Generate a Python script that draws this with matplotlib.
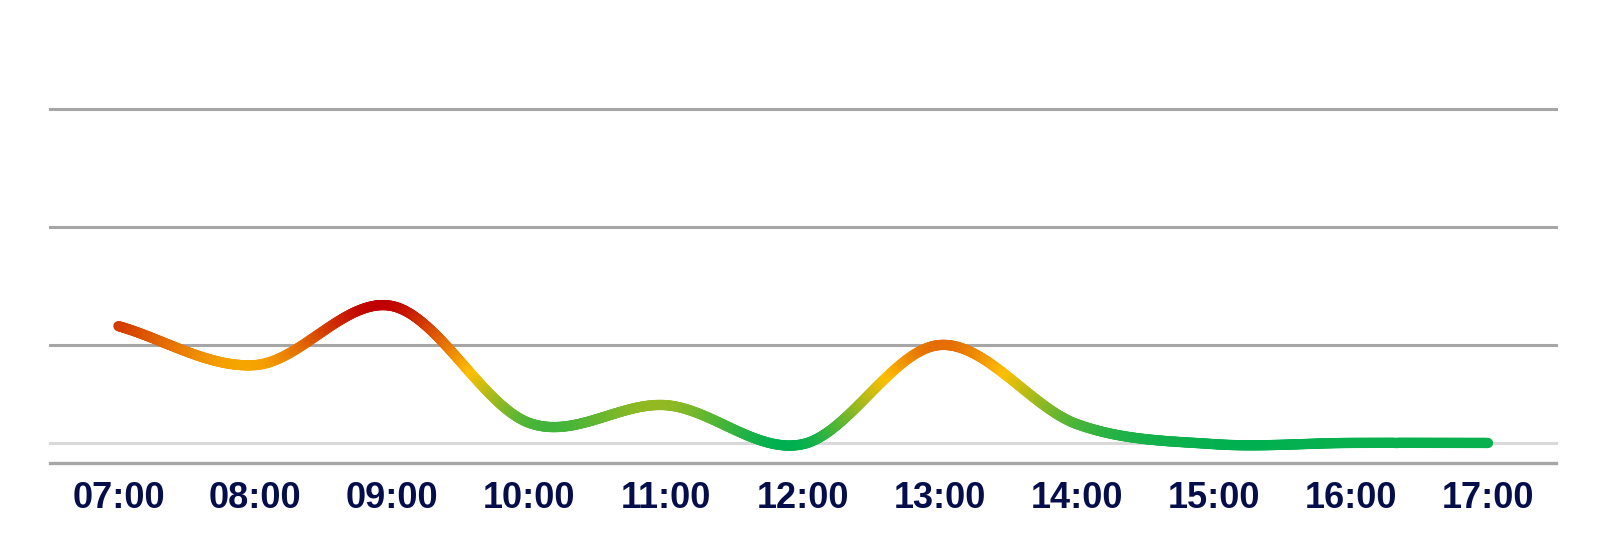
import numpy as np
import matplotlib
matplotlib.use("Agg")
import matplotlib.pyplot as plt
from matplotlib.collections import LineCollection
from matplotlib.colors import LinearSegmentedColormap, Normalize

# ---- data ----
categories = ["07:00", "08:00", "09:00", "10:00", "11:00", "12:00",
              "13:00", "14:00", "15:00", "16:00", "17:00"]
values = [1.16, 0.83, 1.33, 0.34, 0.49, 0.16, 1.00, 0.33, 0.16, 0.17, 0.17]
grid_levels = [1, 2, 3]
baseline_level = 0.17

# ---- Catmull-Rom style smoothing through the points ----
def spline(xs, ys, n=100, k=1.0):
    xs = np.asarray(xs, float); ys = np.asarray(ys, float)
    N = len(xs)
    m = np.zeros(N)
    for i in range(N):
        if i == 0:
            m[i] = (ys[1] - ys[0]) / (xs[1] - xs[0])
        elif i == N - 1:
            m[i] = (ys[-1] - ys[-2]) / (xs[-1] - xs[-2])
        else:
            m[i] = k * (ys[i + 1] - ys[i - 1]) / (xs[i + 1] - xs[i - 1])
    px, py = [], []
    t = np.linspace(0, 1, n)
    h00 = 2 * t**3 - 3 * t**2 + 1
    h10 = t**3 - 2 * t**2 + t
    h01 = -2 * t**3 + 3 * t**2
    h11 = t**3 - t**2
    for i in range(N - 1):
        h = xs[i + 1] - xs[i]
        yy = h00 * ys[i] + h10 * h * m[i] + h01 * ys[i + 1] + h11 * h * m[i + 1]
        xx = xs[i] + t * h
        if i > 0:
            xx, yy = xx[1:], yy[1:]
        px.extend(xx); py.extend(yy)
    return np.array(px), np.array(py)

W, H = 1606, 548
fig = plt.figure(figsize=(W / 100, H / 100), dpi=100)
left, right = 50 / W, 1556 / W
bottom, top = (H - 463) / H, (H - 109) / H
ax = fig.add_axes([left, bottom, right - left, top - bottom])
ax.set_xlim(-0.5, len(categories) - 0.5)
ax.set_ylim(0, 3)
ax.axis("off")

# grid
for g in grid_levels:
    ax.axhline(g, color="#a6a6a6", lw=2.2, clip_on=False, zorder=1)
ax.axhline(baseline_level, color="#d9d9d9", lw=2.2, clip_on=False, zorder=1)
ax.axhline(0, color="#a6a6a6", lw=2.4, clip_on=False, zorder=1)

# line with vertical gradient
x = np.arange(len(categories))
sx, sy = spline(x, values)
cmap = LinearSegmentedColormap.from_list("g", ["#00B050", "#FFC000", "#C00000"])
norm = Normalize(vmin=sy.min(), vmax=sy.max())
pts = np.column_stack([sx, sy]).reshape(-1, 1, 2)
segs = np.concatenate([pts[:-1], pts[1:]], axis=1)
ymid = (sy[:-1] + sy[1:]) / 2
lcoll = LineCollection(segs, colors=cmap(norm(ymid)), linewidths=7.4,
                       capstyle="round", joinstyle="round", zorder=3)
ax.add_collection(lcoll)

# x labels
for i, c in enumerate(categories):
    fig.text((left + (i + 0.5) / len(categories) * (right - left)),
             (H - 499) / H, c, ha="center", va="center",
             fontsize=26, fontweight="bold", color="#050d4a",
             family=["Liberation Sans", "DejaVu Sans"])

fig.savefig("out.png", dpi=100, facecolor="white")
